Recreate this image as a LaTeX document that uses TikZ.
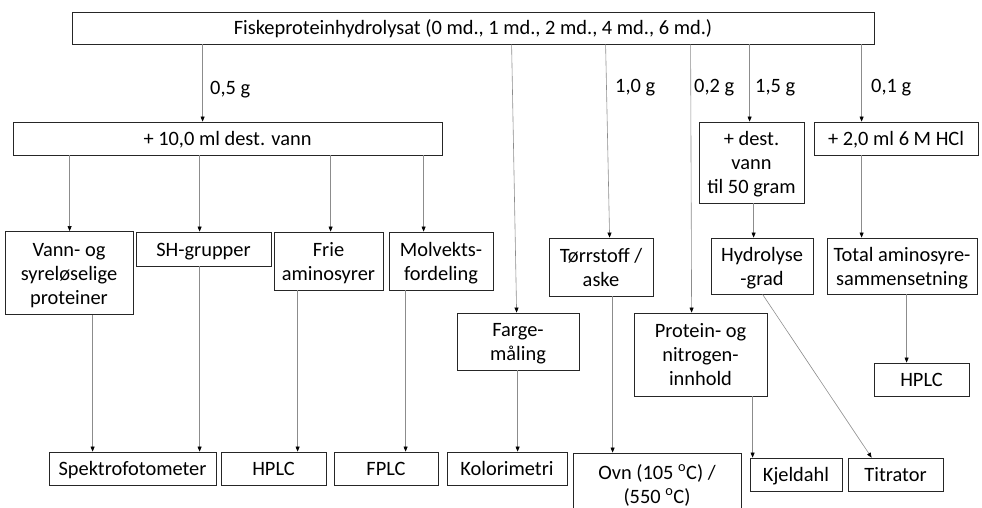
\documentclass[tikz,border=0pt]{standalone}
\usepackage{fontspec}
\setmainfont{Carlito}
\usetikzlibrary{arrows.meta}
\newcommand{\bsa}{\rule[-1pt]{0pt}{20pt}}
\newcommand{\bsz}{\rule[-5pt]{0pt}{5pt}}
\begin{document}
\begin{tikzpicture}[x=1pt,y=-1pt,
  box/.style={draw=black!85,line width=0.8pt,inner sep=0pt,align=center,font=\fontsize{20.4}{24}\selectfont,
    execute at begin node={\bsa},execute at end node={\bsz}},
  lab/.style={anchor=west,inner sep=0pt,font=\fontsize{20.4}{24}\selectfont},
  arr/.style={draw=black!45,line width=0.6pt,-{Triangle[length=5pt,width=4pt,color=black]}}]
\useasboundingbox (0,0) rectangle (982,508);
% nodes
\node[box,minimum width=802,minimum height=32] (top) at (473,28) {Fiskeproteinhydrolysat (0 md., 1 md., 2 md., 4 md., 6 md.)};
\node[box,minimum width=429,minimum height=33] (vann) at (227.5,138.5) {+ 10,0 ml dest. vann};
\node[box,minimum width=128,minimum height=83] (A1) at (69,273) {\bsa Vann- og\\syreløselige\\proteiner\bsz};
\node[box,minimum width=135,minimum height=34] (A2) at (203.5,249) {SH-grupper};
\node[box,minimum width=109,minimum height=58] (A3) at (328.5,261) {\bsa Frie\\aminosyrer\bsz};
\node[box,minimum width=104,minimum height=58] (A4) at (441,261) {\bsa Molvekts-\\fordeling\bsz};
\node[box,minimum width=122,minimum height=57] (farge) at (518,341.5) {\bsa Farge-\\måling\bsz};
\node[box,minimum width=104,minimum height=58] (torr) at (601,267) {\bsa Tørrstoff /\\aske\bsz};
\node[box,minimum width=133,minimum height=83] (prot) at (700.5,354.5) {\bsa Protein- og\\nitrogen-\\innhold\bsz};
\node[box,minimum width=105,minimum height=81] (dest) at (751.5,162.5) {\bsa + dest.\\vann\\til 50 gram\bsz};
\node[box,minimum width=102,minimum height=56] (hydro) at (762,266) {\bsa Hydrolyse\\-grad\bsz};
\node[box,minimum width=164,minimum height=33] (hcl) at (896,138.5) {+ 2,0 ml 6 M HCl};
\node[box,minimum width=150,minimum height=56] (total) at (902,266) {\bsa Total aminosyre-\\sammensetning\bsz};
\node[box,minimum width=95,minimum height=33] (hplcb) at (921.5,379.5) {HPLC};
\node[box,minimum width=167,minimum height=33] (spek) at (132.5,468.5) {Spektrofotometer};
\node[box,minimum width=105,minimum height=33] (hplca) at (273.5,468.5) {HPLC};
\node[box,minimum width=104,minimum height=33] (fplc) at (386,468.5) {FPLC};
\node[box,minimum width=120,minimum height=33] (kolor) at (507,468.5) {Kolorimetri};
\node[box,minimum width=168,minimum height=62] (ovn) at (657,484) {\bsa Ovn (105 \textsuperscript{o}C) /\\(550 \textsuperscript{o}C)\bsz};
\node[box,minimum width=92,minimum height=33] (kjel) at (796,474.5) {Kjeldahl};
\node[box,minimum width=95,minimum height=33] (titr) at (895.5,474.5) {Titrator};
% labels
\node[lab] (l05) at (210,90) {0,5 g};
\node[lab] (l10) at (615,88) {1,0 g};
\node[lab] (l02) at (694,88) {0,2 g};
\node[lab] (l15) at (755,88) {1,5 g};
\node[lab] (l01) at (871,88) {0,1 g};
% connectors
\draw[arr] ([xshift=131]top.south west) -- ([xshift=190]vann.north west);
\draw[arr] ([xshift=57]vann.south west) -- ([xshift=65]A1.north west);
\draw[arr] ([xshift=187]vann.south west) -- ([xshift=64]A2.north west);
\draw[arr] ([xshift=318]vann.south west) -- ([xshift=57]A3.north west);
\draw[arr] ([xshift=411]vann.south west) -- ([xshift=35]A4.north west);
\draw[arr] ([xshift=88]A1.south west) -- ([xshift=44]spek.north west);
\draw[arr] ([xshift=64]A2.south west) -- ([xshift=151]spek.north west);
\draw[arr] ([xshift=24]A3.south west) -- ([xshift=77]hplca.north west);
\draw[arr] ([xshift=17]A4.south west) -- ([xshift=72]fplc.north west);
\draw[arr] ([xshift=440]top.south west) -- ([xshift=60]farge.north west);
\draw[arr] ([xshift=61]farge.south west) -- ([xshift=71]kolor.north west);
\draw[arr] ([xshift=534]top.south west) -- ([xshift=61]torr.north west);
\draw[arr] ([xshift=64]torr.south west) -- ([xshift=40]ovn.north west);
\draw[arr] ([xshift=619]top.south west) -- ([xshift=58]prot.north west);
\draw[arr] ([xshift=678]top.south west) -- ([xshift=51]dest.north west);
\draw[arr] ([xshift=55]dest.south west) -- ([xshift=43]hydro.north west);
\draw[arr] ([xshift=52]hydro.south west) -- ([xshift=24]titr.north west);
\draw[arr] ([xshift=119]prot.south west) -- ([xshift=3]kjel.north west);
\draw[arr] ([xshift=790]top.south west) -- ([xshift=48]hcl.north west);
\draw[arr] ([xshift=48]hcl.south west) -- ([xshift=35]total.north west);
\draw[arr] ([xshift=80]total.south west) -- ([xshift=33]hplcb.north west);
\end{tikzpicture}
\end{document}
